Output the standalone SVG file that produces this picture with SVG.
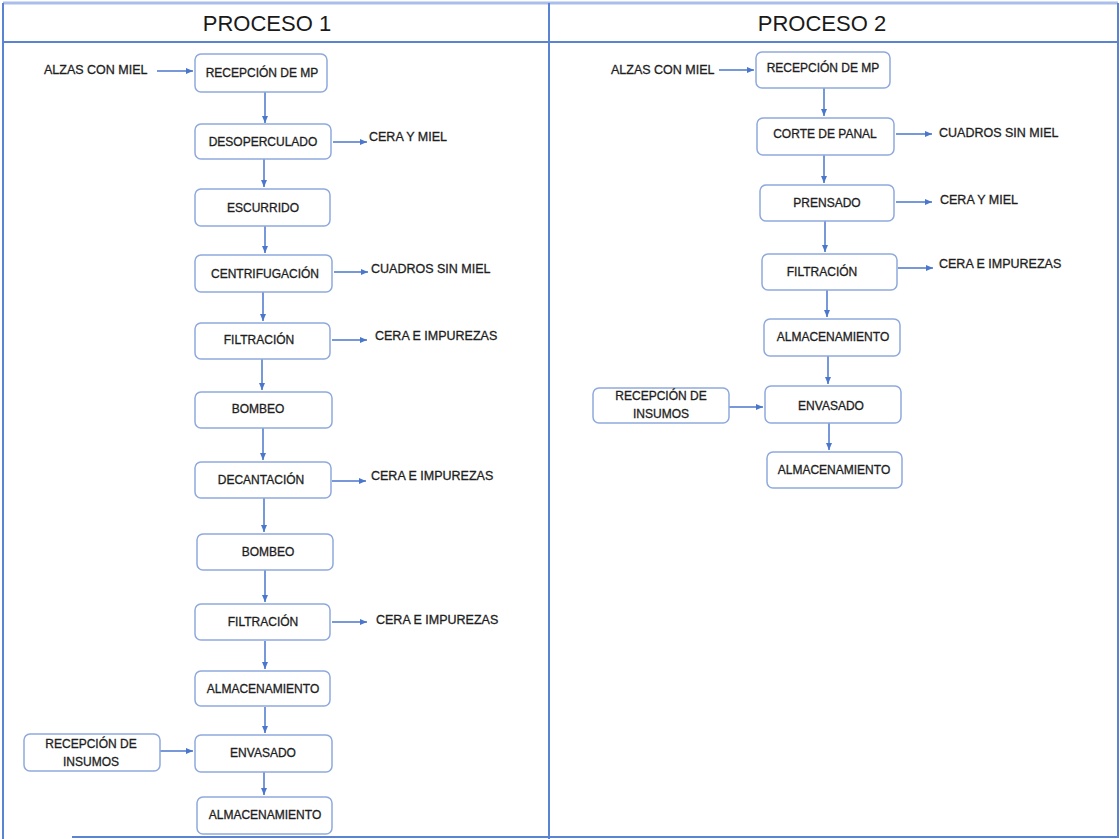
<svg xmlns="http://www.w3.org/2000/svg" width="1120" height="839" viewBox="0 0 1120 839">
  <style>
    .frame { fill: none; stroke: #5A83D2; stroke-width: 2; }
    .frame-top { fill: none; stroke: #A9BEEA; stroke-width: 3; }
    .box { fill: #ffffff; stroke: #8EA9DE; stroke-width: 1.5; }
    .lbl { font-family: "Liberation Sans", Arial, sans-serif; font-size: 12px; fill: #1e1e1e; stroke: #1e1e1e; stroke-width: 0.3; text-anchor: middle; }
    .side { font-family: "Liberation Sans", Arial, sans-serif; font-size: 12.5px; fill: #1e1e1e; stroke: #1e1e1e; stroke-width: 0.3; }
    .title { font-family: "Liberation Sans", Arial, sans-serif; font-size: 22px; fill: #1a1a1a; text-anchor: middle; }
    .conn line { stroke: #4A76CC; stroke-width: 1.5; marker-end: url(#arrow); }
  </style>
  <defs>
    <marker id="arrow" markerUnits="userSpaceOnUse" markerWidth="8" markerHeight="8" refX="7" refY="3.5" orient="auto">
      <path d="M0,0.5 L7,3.5 L0,6.5 z" fill="#4A76CC"/>
    </marker>
  </defs>

  <rect width="1120" height="839" fill="#ffffff"/>

  <!-- table frame -->
  <g id="frame">
    <line class="frame-top" x1="3" y1="3" x2="1118" y2="3"/>
    <line class="frame" x1="3" y1="3" x2="3" y2="839"/>
    <line class="frame" x1="1118" y1="3" x2="1118" y2="838"/>
    <line class="frame" x1="72" y1="837" x2="1118" y2="837"/>
    <line class="frame" x1="3" y1="42" x2="1118" y2="42"/>
    <line class="frame" x1="549" y1="3" x2="549" y2="839"/>
    <text class="title" x="267" y="31">PROCESO 1</text>
    <text class="title" x="822" y="31">PROCESO 2</text>
  </g>

  <!-- connectors -->
  <g id="connectors" class="conn">
    <!-- proceso 1 -->
    <line x1="157" y1="71" x2="193" y2="71"/>
    <line x1="265" y1="92" x2="265" y2="123"/>
    <line x1="333" y1="142" x2="367" y2="142"/>
    <line x1="264" y1="159" x2="264" y2="187"/>
    <line x1="265" y1="226" x2="265" y2="253"/>
    <line x1="334" y1="272" x2="368" y2="272"/>
    <line x1="263" y1="292" x2="263" y2="321"/>
    <line x1="332" y1="340" x2="367" y2="340"/>
    <line x1="262" y1="359" x2="262" y2="390"/>
    <line x1="263" y1="428" x2="263" y2="460"/>
    <line x1="332" y1="481" x2="366" y2="481"/>
    <line x1="264" y1="498" x2="264" y2="532"/>
    <line x1="265" y1="570" x2="265" y2="602"/>
    <line x1="332" y1="622" x2="367" y2="622"/>
    <line x1="265" y1="641" x2="265" y2="669"/>
    <line x1="265" y1="707" x2="265" y2="733"/>
    <line x1="160" y1="751" x2="193" y2="751"/>
    <line x1="264" y1="771" x2="264" y2="795"/>
    <!-- proceso 2 -->
    <line x1="719" y1="70" x2="754" y2="70"/>
    <line x1="824" y1="88" x2="824" y2="116"/>
    <line x1="896" y1="134" x2="932" y2="134"/>
    <line x1="824" y1="155" x2="824" y2="183"/>
    <line x1="896" y1="202" x2="932" y2="202"/>
    <line x1="825" y1="221" x2="825" y2="252"/>
    <line x1="898" y1="268" x2="933" y2="268"/>
    <line x1="827" y1="290" x2="827" y2="317"/>
    <line x1="828" y1="356" x2="828" y2="384"/>
    <line x1="729" y1="407" x2="763" y2="407"/>
    <line x1="829" y1="423" x2="829" y2="450"/>
  </g>

  <!-- proceso 1 nodes -->
  <g id="p1-alzas"><text class="side" x="44" y="74">ALZAS CON MIEL</text></g>
  <g id="p1-recepcion-mp">
    <rect class="box" x="195" y="54" width="132" height="38" rx="6"/>
    <text class="lbl" x="262" y="77">RECEPCIÓN DE MP</text>
  </g>
  <g id="p1-desoperculado">
    <rect class="box" x="195" y="124" width="136" height="35" rx="6"/>
    <text class="lbl" x="263" y="146">DESOPERCULADO</text>
  </g>
  <g id="p1-cera-miel"><text class="side" x="369" y="141">CERA Y MIEL</text></g>
  <g id="p1-escurrido">
    <rect class="box" x="195" y="189" width="135" height="37" rx="6"/>
    <text class="lbl" x="263" y="212">ESCURRIDO</text>
  </g>
  <g id="p1-centrifugacion">
    <rect class="box" x="195" y="255" width="137" height="37" rx="6"/>
    <text class="lbl" x="265" y="278">CENTRIFUGACIÓN</text>
  </g>
  <g id="p1-cuadros"><text class="side" x="371" y="273">CUADROS SIN MIEL</text></g>
  <g id="p1-filtracion-1">
    <rect class="box" x="195" y="323" width="135" height="36" rx="6"/>
    <text class="lbl" x="259" y="344">FILTRACIÓN</text>
  </g>
  <g id="p1-cera-imp-1"><text class="side" x="375" y="340">CERA E IMPUREZAS</text></g>
  <g id="p1-bombeo-1">
    <rect class="box" x="195" y="392" width="137" height="36" rx="6"/>
    <text class="lbl" x="258" y="413">BOMBEO</text>
  </g>
  <g id="p1-decantacion">
    <rect class="box" x="195" y="462" width="136" height="36" rx="6"/>
    <text class="lbl" x="261" y="484">DECANTACIÓN</text>
  </g>
  <g id="p1-cera-imp-2"><text class="side" x="371" y="480">CERA E IMPUREZAS</text></g>
  <g id="p1-bombeo-2">
    <rect class="box" x="197" y="534" width="136" height="36" rx="6"/>
    <text class="lbl" x="268" y="556">BOMBEO</text>
  </g>
  <g id="p1-filtracion-2">
    <rect class="box" x="195" y="604" width="135" height="36" rx="6"/>
    <text class="lbl" x="263" y="626">FILTRACIÓN</text>
  </g>
  <g id="p1-cera-imp-3"><text class="side" x="376" y="624">CERA E IMPUREZAS</text></g>
  <g id="p1-almacenamiento-1">
    <rect class="box" x="195" y="671" width="135" height="35" rx="6"/>
    <text class="lbl" x="263" y="693">ALMACENAMIENTO</text>
  </g>
  <g id="p1-insumos">
    <rect class="box" x="24" y="734" width="136" height="37" rx="6"/>
    <text class="lbl" x="91" y="748">RECEPCIÓN DE</text>
    <text class="lbl" x="91" y="766">INSUMOS</text>
  </g>
  <g id="p1-envasado">
    <rect class="box" x="195" y="735" width="137" height="37" rx="6"/>
    <text class="lbl" x="263" y="757">ENVASADO</text>
  </g>
  <g id="p1-almacenamiento-2">
    <rect class="box" x="197" y="797" width="135" height="37" rx="6"/>
    <text class="lbl" x="265" y="819">ALMACENAMIENTO</text>
  </g>

  <!-- proceso 2 nodes -->
  <g id="p2-alzas"><text class="side" x="611" y="74">ALZAS CON MIEL</text></g>
  <g id="p2-recepcion-mp">
    <rect class="box" x="756" y="52" width="134" height="36" rx="6"/>
    <text class="lbl" x="823" y="72">RECEPCIÓN DE MP</text>
  </g>
  <g id="p2-corte">
    <rect class="box" x="757" y="118" width="137" height="37" rx="6"/>
    <text class="lbl" x="825" y="138">CORTE DE PANAL</text>
  </g>
  <g id="p2-cuadros"><text class="side" x="939" y="137">CUADROS SIN MIEL</text></g>
  <g id="p2-prensado">
    <rect class="box" x="760" y="185" width="134" height="36" rx="6"/>
    <text class="lbl" x="827" y="207">PRENSADO</text>
  </g>
  <g id="p2-cera-miel"><text class="side" x="940" y="204">CERA Y MIEL</text></g>
  <g id="p2-filtracion">
    <rect class="box" x="762" y="254" width="135" height="36" rx="6"/>
    <text class="lbl" x="822" y="276">FILTRACIÓN</text>
  </g>
  <g id="p2-cera-imp"><text class="side" x="939" y="268">CERA E IMPUREZAS</text></g>
  <g id="p2-almacenamiento-1">
    <rect class="box" x="764" y="319" width="136" height="37" rx="6"/>
    <text class="lbl" x="833" y="341">ALMACENAMIENTO</text>
  </g>
  <g id="p2-insumos">
    <rect class="box" x="593" y="388" width="136" height="35" rx="6"/>
    <text class="lbl" x="661" y="400">RECEPCIÓN DE</text>
    <text class="lbl" x="661" y="418">INSUMOS</text>
  </g>
  <g id="p2-envasado">
    <rect class="box" x="765" y="386" width="136" height="37" rx="6"/>
    <text class="lbl" x="831" y="410">ENVASADO</text>
  </g>
  <g id="p2-almacenamiento-2">
    <rect class="box" x="767" y="452" width="135" height="36" rx="6"/>
    <text class="lbl" x="834" y="474">ALMACENAMIENTO</text>
  </g>
</svg>
